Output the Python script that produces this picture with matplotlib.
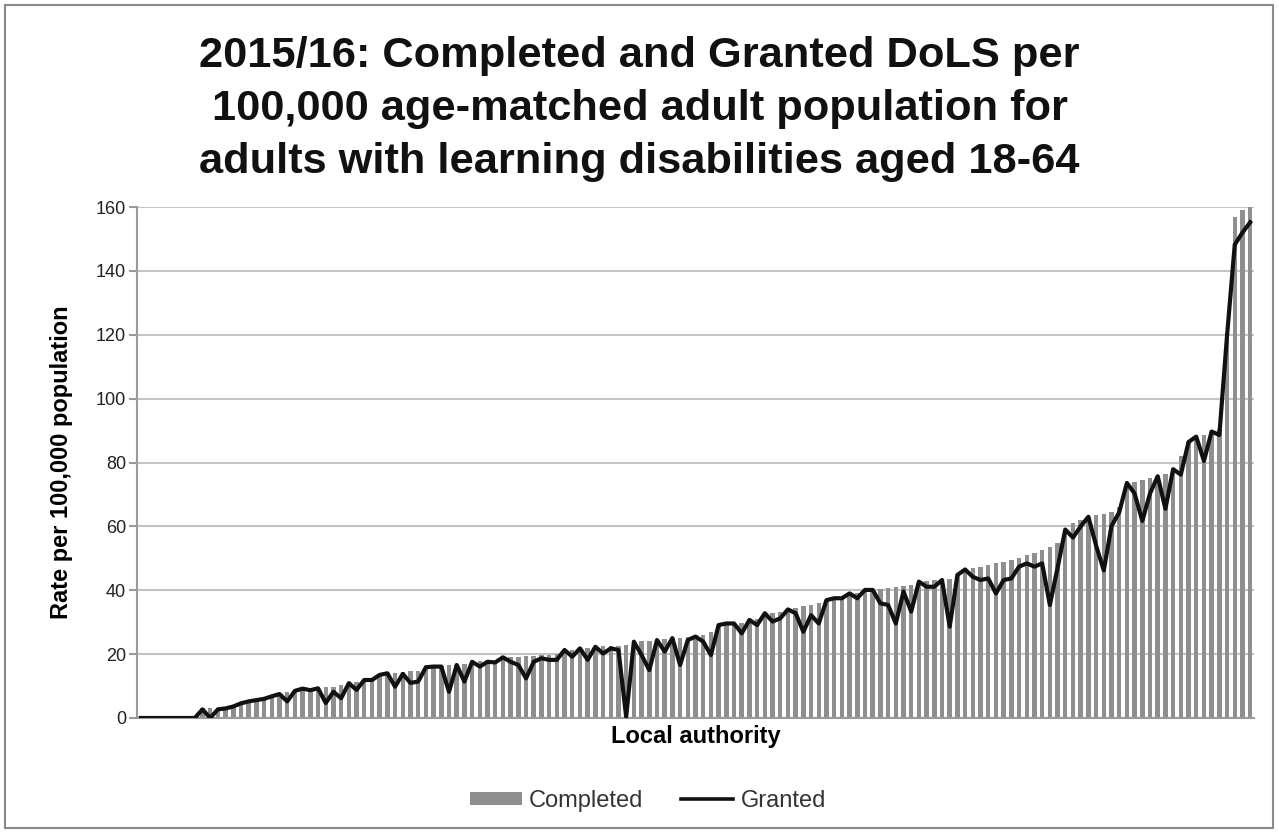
import matplotlib
matplotlib.use("Agg")
import matplotlib.pyplot as plt
from matplotlib.patches import Rectangle, Patch
from matplotlib.lines import Line2D
import numpy as np

plt.rcParams['font.family'] = ['Liberation Sans', 'DejaVu Sans']

title = "2015/16: Completed and Granted DoLS per\n100,000 age-matched adult population for\nadults with learning disabilities aged 18-64"
y_label = "Rate per 100,000 population"
x_label = "Local authority"
y_ticks = [0, 20, 40, 60, 80, 100, 120, 140, 160]

completed = [
    0, 0, 0, 0, 0, 0, 0, 0,
    3.0, 3.0, 3.0, 3.2, 3.8, 4.6, 5.2, 5.6, 6.0, 6.8, 7.5, 8.0,
    8.5, 9.2, 9.3, 9.5, 9.6, 9.8, 10.2, 10.9, 11.2, 11.9, 12.2, 13.5,
    14.0, 14.2, 14.4, 14.6, 14.8, 15.9, 16.1, 16.3, 16.5, 16.7, 17.0, 17.6,
    17.7, 17.8, 18.0, 19.0, 19.1, 19.2, 19.3, 19.5, 19.6, 19.7, 20.0, 21.3,
    21.4, 21.8, 22.0, 22.3, 22.4, 22.5, 22.6, 23.0, 23.9, 24.0, 24.2, 24.4,
    24.6, 25.0, 25.2, 25.4, 25.5, 26.0, 27.0, 29.1, 29.6, 29.7, 29.9, 30.7,
    30.9, 32.8, 33.0, 33.2, 34.0, 34.5, 35.0, 35.5, 36.0, 36.9, 37.5, 37.8,
    39.0, 39.2, 40.1, 40.3, 40.5, 40.7, 41.0, 41.2, 41.5, 42.7, 42.9, 43.1,
    43.2, 43.6, 44.8, 46.5, 47.0, 47.4, 48.0, 48.4, 49.0, 49.5, 50.0, 51.0,
    51.6, 52.5, 53.6, 54.7, 59.0, 61.0, 62.0, 63.0, 63.5, 64.0, 64.5, 66.0,
    73.6, 74.0, 74.5, 75.0, 75.7, 76.5, 77.9, 82.0, 86.4, 88.1, 88.5, 89.7,
    90.5, 121.0, 157.0, 159.0, 160.0,
]

granted = [
    0, 0, 0, 0, 0, 0, 0, 0,
    2.7, 0.0, 2.7, 3.0, 3.6, 4.6, 5.2, 5.6, 6.0, 6.8, 7.5, 5.2,
    8.5, 9.2, 8.7, 9.3, 4.7, 8.2, 6.2, 10.9, 8.8, 11.9, 11.9, 13.5,
    14.0, 9.8, 13.8, 11.0, 11.4, 15.9, 16.1, 16.1, 8.2, 16.6, 11.4, 17.6,
    16.1, 17.6, 17.4, 19.0, 17.6, 16.6, 12.4, 17.6, 18.7, 18.2, 18.2, 21.3,
    19.2, 21.8, 18.2, 22.3, 20.2, 21.8, 21.3, 0.4, 23.9, 19.7, 15.0, 24.4,
    20.8, 25.0, 16.6, 24.4, 25.5, 23.9, 19.7, 29.1, 29.6, 29.6, 26.5, 30.7,
    29.1, 32.8, 30.2, 31.2, 34.0, 32.8, 27.0, 32.2, 29.6, 36.9, 37.5, 37.5,
    39.0, 37.5, 40.1, 40.1, 35.9, 35.4, 29.6, 39.6, 33.3, 42.7, 41.1, 41.1,
    43.2, 28.6, 44.8, 46.5, 44.2, 43.2, 43.7, 39.0, 43.2, 43.7, 47.4, 48.4,
    47.4, 48.4, 35.4, 47.0, 59.0, 56.5, 60.0, 63.0, 54.0, 46.2, 60.1, 64.4,
    73.6, 70.3, 61.7, 70.3, 75.7, 65.5, 77.9, 76.2, 86.4, 88.1, 80.5, 89.7,
    88.6, 119.7, 148.2, 152.0, 155.2,
]

W, H = 1279, 833
fig = plt.figure(figsize=(W / 100, H / 100), dpi=100)
fig.patch.set_facecolor("white")

# outer chart frame
fig.patches.append(Rectangle((5 / W, 5 / H), 1268 / W, 823 / H, transform=fig.transFigure,
                             fill=False, edgecolor="#8a8a8a", linewidth=1.5))

ax_l, ax_r = 137 / W, 1254 / W
ax_t, ax_b = 1 - 207 / H, 1 - 718 / H
ax = fig.add_axes([ax_l, ax_b, ax_r - ax_l, ax_t - ax_b])

x = np.arange(len(completed))
ax.bar(x, completed, width=0.58, color="#8f8f8f", zorder=2)
ax.plot(x, granted, color="#111111", linewidth=3.0, zorder=3)

ax.set_xlim(-0.5, len(completed) - 0.5)
ax.set_ylim(0, 160)
ax.set_yticks(y_ticks)
ax.set_yticklabels([str(v) for v in y_ticks], fontsize=13, color="#222222")
ax.set_xticks([])
ax.yaxis.grid(True, color="#c4c4c4", linewidth=1.5, zorder=0)
ax.set_axisbelow(True)
for s in ["top", "right"]:
    ax.spines[s].set_visible(False)
ax.spines["left"].set_color("#9a9a9a")
ax.spines["left"].set_linewidth(1.5)
ax.spines["bottom"].set_color("#9a9a9a")
ax.spines["bottom"].set_linewidth(1.5)
ax.tick_params(axis="y", length=6, width=1.5, color="#9a9a9a", pad=2)

ax.set_ylabel(y_label, fontsize=17, fontweight="bold", labelpad=16)
ax.set_xlabel(x_label, fontsize=17, fontweight="bold", labelpad=5)

fig.text(0.5, 1 - 109 / H, title, ha="center", va="center", fontsize=31.2,
         fontweight="bold", linespacing=1.42, color="#111111")

handles = [Patch(facecolor="#8f8f8f", edgecolor="none"),
           Line2D([0], [0], color="#111111", linewidth=2.6)]
fig.legend(handles, ["Completed", "Granted"], loc="center",
           bbox_to_anchor=(648 / W, 1 - 801 / H), ncol=2, frameon=False,
           fontsize=17, handlelength=2.2, handleheight=0.5, columnspacing=1.6,
           handletextpad=0.3, labelcolor="#333333")

fig.savefig("out.png", dpi=100)
